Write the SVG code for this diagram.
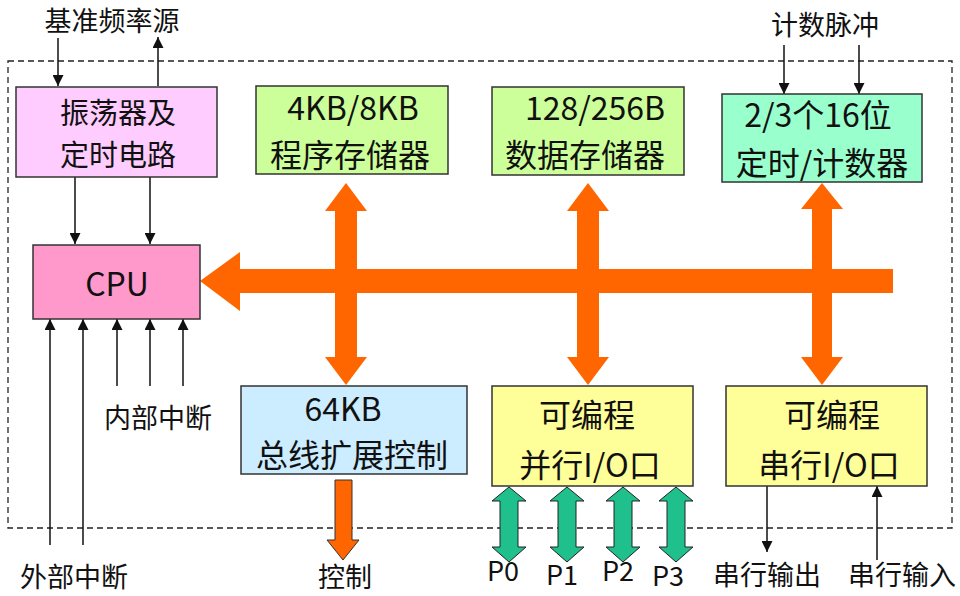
<svg xmlns="http://www.w3.org/2000/svg" width="960" height="596" viewBox="0 0 960 596">
<defs>
<style>
text{font-family:"Noto Sans CJK SC","Noto Sans",sans-serif;fill:#111;text-anchor:middle;dominant-baseline:central}
.big{font-size:32px}
.osc{font-size:29px}
.lbl{font-size:27px}
.box{stroke:#333;stroke-width:1.5}
.ln{stroke:#111;stroke-width:1.5;fill:none}
.bus{fill:#FF6600}
.pa{fill:#1FC08C;stroke:#222;stroke-width:1}
</style>
<marker id="ah2" viewBox="0 0 10 10" refX="10" refY="5" markerWidth="11" markerHeight="11" markerUnits="userSpaceOnUse" orient="auto"><path d="M0,0 L10,5 L0,10 z" fill="#111"/></marker>
</defs>
<rect width="960" height="596" fill="#fff"/>
<rect x="8" y="61" width="944" height="467" fill="none" stroke="#222" stroke-width="1.3" stroke-dasharray="6,4"/>

<g id="connectors">
<path class="bus" d="M200,281 L240,252 L240,269 L893,269 L893,293 L240,293 L240,311 Z"/>
<path class="bus" d="M346,183 L367,211 L357,211 L357,357 L367,357 L346,385 L325,357 L335,357 L335,211 L325,211 Z"/>
<path class="bus" d="M588,183 L609,211 L599,211 L599,357 L609,357 L588,385 L567,357 L577,357 L577,211 L567,211 Z"/>
<path class="bus" d="M822,183 L843,209 L832,209 L832,357 L843,357 L822,385 L801,357 L812,357 L812,209 L801,209 Z"/>
<path class="bus" stroke="#333" stroke-width="1" d="M335,480 L352,480 L352,540 L359,540 L343,560 L327,540 L335,540 Z"/>
<path class="pa" d="M509,487 L526,501 L518,501 L518,547 L526,547 L509,562 L492,547 L500,547 L500,501 L492,501 Z"/>
<path class="pa" d="M567,487 L584,501 L576,501 L576,547 L584,547 L567,562 L550,547 L558,547 L558,501 L550,501 Z"/>
<path class="pa" d="M623,487 L640,501 L632,501 L632,547 L640,547 L623,562 L606,547 L614,547 L614,501 L606,501 Z"/>
<path class="pa" d="M676,487 L693,501 L685,501 L685,547 L693,547 L676,562 L659,547 L667,547 L667,501 L659,501 Z"/>
<line class="ln" x1="58" y1="38" x2="58" y2="86" marker-end="url(#ah2)"/>
<line class="ln" x1="158" y1="86" x2="158" y2="37" marker-end="url(#ah2)"/>
<line class="ln" x1="75" y1="177" x2="75" y2="244" marker-end="url(#ah2)"/>
<line class="ln" x1="150" y1="177" x2="150" y2="244" marker-end="url(#ah2)"/>
<line class="ln" x1="784" y1="45" x2="784" y2="94" marker-end="url(#ah2)"/>
<line class="ln" x1="859" y1="45" x2="859" y2="94" marker-end="url(#ah2)"/>
<line class="ln" x1="50" y1="545" x2="50" y2="319" marker-end="url(#ah2)"/>
<line class="ln" x1="83" y1="545" x2="83" y2="319" marker-end="url(#ah2)"/>
<line class="ln" x1="117" y1="386" x2="117" y2="319" marker-end="url(#ah2)"/>
<line class="ln" x1="150" y1="386" x2="150" y2="319" marker-end="url(#ah2)"/>
<line class="ln" x1="183" y1="386" x2="183" y2="319" marker-end="url(#ah2)"/>
<line class="ln" x1="767" y1="486" x2="767" y2="552" marker-end="url(#ah2)"/>
<line class="ln" x1="877" y1="560" x2="877" y2="486" marker-end="url(#ah2)"/>
</g>

<g id="osc">
<rect class="box" x="16" y="87" width="201" height="90" fill="#FFCCFF"/>
<text class="osc" x="118" y="111">振荡器及</text>
<text class="osc" x="118" y="153">定时电路</text>
</g>
<g id="prog">
<rect class="box" x="256" y="86" width="192" height="88" fill="#CCFF99"/>
<text class="big" x="353" y="106">4KB/8KB</text>
<text class="big" x="350" y="153">程序存储器</text>
</g>
<g id="data">
<rect class="box" x="492" y="87" width="192" height="88" fill="#CCFF99"/>
<text class="big" x="595" y="106">128/256B</text>
<text class="big" x="585" y="153">数据存储器</text>
</g>
<g id="timer">
<rect class="box" x="722" y="94" width="200" height="88" fill="#99FFCC"/>
<text class="big" x="818" y="113">2/3个16位</text>
<text class="big" x="822" y="161">定时/计数器</text>
</g>
<g id="cpu">
<rect class="box" x="33" y="245" width="167" height="74" fill="#FF99CC"/>
<text class="big" x="117" y="282">CPU</text>
</g>
<g id="busctl">
<rect class="box" x="241" y="386" width="226" height="88" fill="#CCECFF"/>
<text class="big" x="343" y="407">64KB</text>
<text class="big" x="352" y="453">总线扩展控制</text>
</g>
<g id="pio">
<rect class="box" x="492" y="386" width="201" height="100" fill="#FFFF99"/>
<text class="big" x="587" y="413">可编程</text>
<text class="big" x="590" y="463">并行I/O口</text>
</g>
<g id="sio">
<rect class="box" x="726" y="386" width="201" height="100" fill="#FFFF99"/>
<text class="big" x="832" y="413">可编程</text>
<text class="big" x="829" y="463">串行I/O口</text>
</g>

<g id="labels">
<text class="lbl" x="112" y="19">基准频率源</text>
<text class="lbl" x="825" y="23">计数脉冲</text>
<text class="lbl" x="158" y="416">内部中断</text>
<text class="lbl" x="74" y="575">外部中断</text>
<text class="lbl" x="345" y="575">控制</text>
<text class="lbl" x="503" y="569">P0</text>
<text class="lbl" x="562" y="573">P1</text>
<text class="lbl" x="618" y="569">P2</text>
<text class="lbl" x="668" y="574">P3</text>
<text class="lbl" x="767" y="573">串行输出</text>
<text class="lbl" x="902" y="573">串行输入</text>
</g>
</svg>
